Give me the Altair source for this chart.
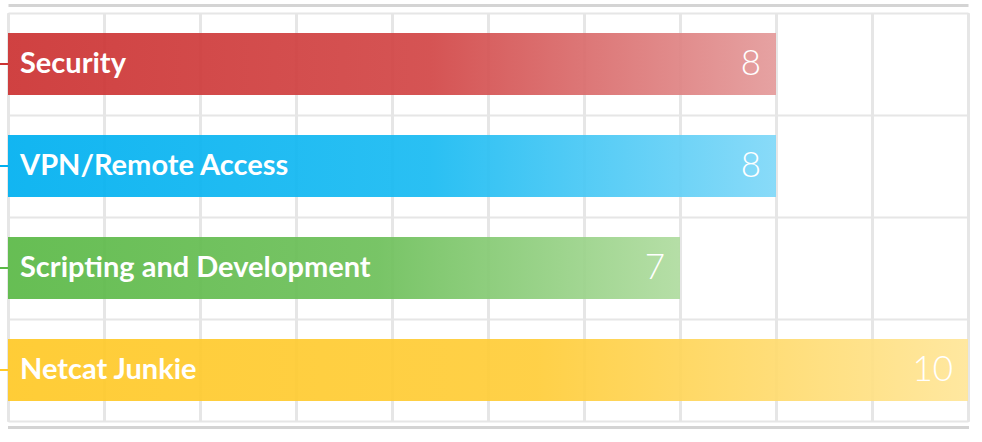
import altair as alt
import pandas as pd

categories = ["Security", "VPN/Remote Access", "Scripting and Development", "Netcat Junkie"]
values = [8, 8, 7, 10]
base_colors = ["#cc3333", "#00b0f0", "#5bb947", "#ffc928"]
mid_colors = ["#d24747", "#1abbf2", "#6ec05b", "#ffcd3a"]
end_colors = ["#e49b9b", "#80d8f8", "#b0dca0", "#ffe699"]

df = pd.DataFrame({"category": categories, "value": values, "zero": [0] * len(values)})

W, H = 960, 408
ysc = alt.Scale(domain=categories, paddingInner=0, paddingOuter=0)
xsc = alt.Scale(domain=[0, 10], nice=False, zero=True)

grid_axis = alt.Axis(grid=True, gridColor="#e6e6e6", gridWidth=2, labels=False, ticks=False,
                     domain=True, domainColor="#d4d4d4", domainWidth=3, offset=6, title=None,
                     values=list(range(0, 11)), orient="bottom")
top_axis = alt.Axis(grid=False, labels=False, ticks=False, domain=True, domainColor="#d4d4d4",
                    domainWidth=3, offset=8, title=None, orient="top")
y_axis = alt.Axis(grid=True, gridColor="#e6e6e6", gridWidth=2, labels=False, ticks=False,
                  domain=False, title=None, tickBand="extent")


def X(field, axis=grid_axis):
    return alt.X(field, scale=xsc, axis=axis)


def Y():
    return alt.Y("category:N", scale=ysc, axis=y_axis, sort=None)


base = alt.Chart(df)

layers = []
layers.append(base.mark_point(opacity=0).encode(x=X("value:Q", top_axis), y=Y()))

for cat, c0, c1, c2 in zip(categories, base_colors, mid_colors, end_colors):
    grad = alt.Gradient(
        gradient="linear",
        stops=[alt.GradientStop(color=c0, offset=0),
               alt.GradientStop(color=c1, offset=0.55),
               alt.GradientStop(color=c2, offset=1)],
        x1=0, x2=1, y1=0, y2=0,
    )
    layers.append(base.transform_filter(alt.datum.category == cat).mark_bar(
        color=grad, opacity=0.93, height={"band": 0.61}
    ).encode(x=X("value:Q"), y=Y()))

layers.append(base.mark_rule(strokeWidth=2).encode(
    x=alt.value(-8), x2=alt.value(0),
    y=Y(),
    color=alt.Color("category:N", scale=alt.Scale(domain=categories, range=base_colors), legend=None),
))

layers.append(base.mark_text(align="left", baseline="middle", dx=12, dy=0, color="white",
                             font="Lato", fontWeight="bold", fontSize=29).encode(
    x=X("zero:Q"), y=Y(), text="category:N",
))
layers.append(base.mark_text(align="right", baseline="middle", dx=-15, dy=0, color="white",
                             font="Lato", fontWeight=300, fontSize=35).encode(
    x=X("value:Q"), y=Y(), text="value:Q",
))

chart = alt.layer(*layers).resolve_axis(x="independent").properties(
    width=W, height=H,
    autosize=alt.AutoSizeParams(type="none"),
    padding={"left": 8, "top": 13, "right": 14, "bottom": 21},
).configure_view(strokeWidth=0).configure(background="white")

chart.save("out.html", embed_options={"renderer": "svg", "actions": False})
